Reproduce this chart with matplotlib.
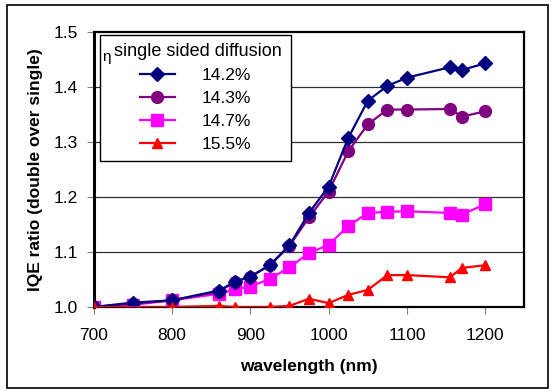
import matplotlib
matplotlib.use('Agg')
import matplotlib.pyplot as plt
from matplotlib.patches import Rectangle

plt.rcParams['font.family'] = ['Liberation Sans', 'DejaVu Sans']

# wavelengths (nm)
wl = [700, 750, 800, 860, 880, 900, 925, 950, 975, 1000, 1025, 1050, 1075, 1100, 1155, 1170, 1200]
wl_red = [700, 800, 860, 880, 925, 950, 975, 1000, 1025, 1050, 1075, 1100, 1155, 1170, 1200]

iqe_142 = [1.000, 1.008, 1.012, 1.030, 1.045, 1.055, 1.076, 1.112, 1.171, 1.219, 1.307, 1.375,
           1.402, 1.417, 1.436, 1.431, 1.443]
iqe_143 = [1.000, 1.006, 1.012, 1.028, 1.046, 1.055, 1.076, 1.111, 1.163, 1.210, 1.283, 1.332,
           1.359, 1.359, 1.360, 1.346, 1.356]
iqe_147 = [1.000, 1.004, 1.012, 1.024, 1.032, 1.037, 1.051, 1.072, 1.098, 1.113, 1.147, 1.171,
           1.173, 1.174, 1.171, 1.168, 1.187]
iqe_155 = [1.000, 1.000, 1.002, 1.000, 1.000, 1.002, 1.015, 1.007, 1.022, 1.031, 1.058, 1.058,
           1.054, 1.071, 1.076]

labels = ['14.2%', '14.3%', '14.7%', '15.5%']

fig = plt.figure(figsize=(5.55, 3.92), dpi=100)
ax = fig.add_axes([93.5 / 555, 1 - 307 / 392, 431 / 555, 275 / 392])

# outer frame of the chart
fig.patches.append(Rectangle((7 / 555, 1 - 388 / 392), 541 / 555, 383 / 392,
                             transform=fig.transFigure, fill=False, edgecolor='black', lw=1.2))

ax.plot(wl, iqe_142, '-D', color='#000080', lw=1.6, ms=7, label=labels[0], zorder=5)
ax.plot(wl, iqe_143, '-o', color='#800080', lw=1.6, ms=8.5, label=labels[1], zorder=4)
ax.plot(wl, iqe_147, '-s', color='#FF00FF', lw=1.6, ms=8, label=labels[2], zorder=3)
ax.plot(wl_red, iqe_155, '-^', color='#FF0000', lw=1.6, ms=6.5, label=labels[3], zorder=6)

ax.set_xlim(700, 1250)
ax.set_ylim(1.0, 1.5)
ax.set_xticks([700, 800, 900, 1000, 1100, 1200])
ax.set_yticks([1.0, 1.1, 1.2, 1.3, 1.4, 1.5])
ax.set_yticklabels(['1.0', '1.1', '1.2', '1.3', '1.4', '1.5'])
ax.tick_params(labelsize=12.5, direction='out', length=5, color='#808080', pad=6)
ax.tick_params(axis='x', pad=10)

for y in [1.1, 1.2, 1.3, 1.4]:
    ax.axhline(y, color='#303030', lw=0.9, zorder=1)

for s in ax.spines.values():
    s.set_linewidth(1.6)
    s.set_color('black')
ax.spines['left'].set_linewidth(2.2)

ax.set_xlabel('wavelength (nm)', fontsize=12.5, fontweight='bold', labelpad=12)
ax.set_ylabel('IQE ratio (double over single)', fontsize=12.5, fontweight='bold', labelpad=8)

leg = ax.legend(loc='upper left', bbox_to_anchor=(0.016, 0.99), fontsize=12.5,
                title=' single sided diffusion', title_fontsize=13,
                frameon=True, fancybox=False, edgecolor='black', framealpha=1,
                handlelength=2.0, handletextpad=1.55, labelspacing=0.45,
                borderpad=0.5, borderaxespad=0)
leg.get_frame().set_linewidth(1.0)
leg._legend_box.align = 'center'
leg.set_zorder(10)

fig.text(102 / 555, 1 - 57 / 392, 'η', fontsize=11, ha='left', va='center', zorder=11)

fig.savefig('out.png', dpi=100)
